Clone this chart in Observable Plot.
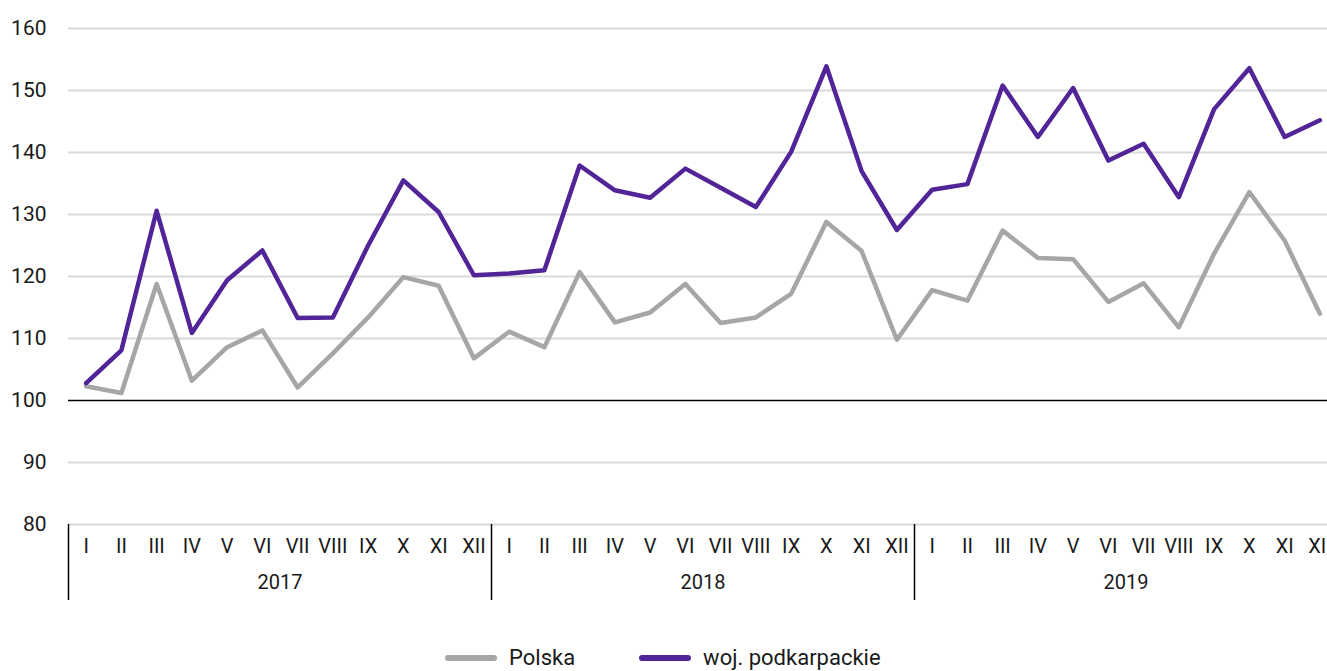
<!DOCTYPE html>
<html>
<head>
<meta charset="utf-8">
<script src="https://cdn.jsdelivr.net/npm/d3@7"></script>
<script src="https://cdn.jsdelivr.net/npm/@observablehq/plot@0.6"></script>
<style>
  html, body { margin: 0; padding: 0; background: #fff; overflow: hidden; width: 1327px; height: 671px; }
  body { font-family: "Liberation Sans Narrow", "Roboto", "Noto Sans", sans-serif; color: #1a1a1a; position: relative; }
  #legend { position: absolute; left: 445px; top: 645px; display: flex; align-items: center; font-size: 22px; white-space: nowrap; }
  .item { display: flex; align-items: center; margin-right: 64px; }
  .sw { display: inline-block; width: 52px; height: 6px; border-radius: 3px; margin-right: 12px; }
</style>
</head>
<body>
<div id="chart"></div>
<div id="legend"></div>
<script>
const months = ["I","II","III","IV","V","VI","VII","VIII","IX","X","XI","XII"];
const years = ["2017","2018","2019"];
const polska = [
  102.3, 101.2, 118.8, 103.2, 108.6, 111.3, 102.1, 107.6, 113.4, 119.9, 118.5, 106.8,
  111.1, 108.6, 120.7, 112.6, 114.2, 118.8, 112.5, 113.4, 117.2, 128.8, 124.1, 109.8,
  117.8, 116.1, 127.4, 123.0, 122.8, 115.9, 118.9, 111.8, 123.7, 133.6, 125.8, 114.0
];
const podkarpackie = [
  102.8, 108.1, 130.6, 110.9, 119.4, 124.2, 113.3, 113.4, 125.0, 135.5, 130.4, 120.2,
  120.5, 121.0, 137.9, 133.9, 132.7, 137.4, 134.3, 131.2, 140.1, 153.9, 137.0, 127.5,
  134.0, 134.9, 150.8, 142.5, 150.4, 138.7, 141.4, 132.8, 147.0, 153.6, 142.5, 145.2
];
const seriesNames = ["Polska", "woj. podkarpackie"];
const seriesColors = ["#a6a6a6", "#512498"];
const yTicks = [80, 90, 100, 110, 120, 130, 140, 150, 160];

const n = polska.length;
const idx = d3.range(n);
const rows = [
  ...idx.map(i => ({i, v: polska[i], s: seriesNames[0]})),
  ...idx.map(i => ({i, v: podkarpackie[i], s: seriesNames[1]}))
];
const yearCenters = years.map((_, k) => k * 12 + 5.5);
const separators = years.map((_, k) => k * 12 - 0.5);

const chart = Plot.plot({
  width: 1337,
  height: 610,
  marginLeft: 68,
  marginRight: 0,
  marginTop: 28,
  marginBottom: 86,
  style: {fontFamily: "Liberation Sans Narrow, Roboto, Noto Sans, sans-serif", fontSize: "20px", color: "#1a1a1a", maxWidth: "none", overflow: "visible"},
  x: {type: "linear", domain: [-0.5, n - 0.5], axis: null},
  y: {domain: [80, 160], axis: null},
  color: {domain: seriesNames, range: seriesColors},
  marks: [
    Plot.ruleY(yTicks.filter(d => d !== 100), {stroke: "#d9d9d9", strokeWidth: 2}),
    Plot.ruleY([100], {stroke: "#000", strokeWidth: 1.5}),
    Plot.axisY({ticks: yTicks, tickSize: 0, tickPadding: 22, fontSize: 21, label: null, tickFormat: d => String(d)}),
    Plot.axisX({ticks: idx, tickSize: 0, tickPadding: 14, label: null, tickFormat: i => months[i % 12], fontSize: 20}),
    Plot.axisX({ticks: yearCenters, tickSize: 0, tickPadding: 50, label: null, tickFormat: (d, k) => years[k], fontSize: 20}),
    Plot.axisX({ticks: separators, tickSize: 76, label: null, tickFormat: () => "", stroke: "#000", strokeWidth: 1.5}),
    Plot.line(rows, {x: "i", y: "v", z: "s", stroke: "s", strokeWidth: 4.5, strokeLinejoin: "round", strokeLinecap: "round"})
  ]
});
document.getElementById("chart").appendChild(chart);

const legend = document.getElementById("legend");
seriesNames.forEach((name, k) => {
  const item = document.createElement("div");
  item.className = "item";
  const sw = document.createElement("span");
  sw.className = "sw";
  sw.style.background = seriesColors[k];
  const t = document.createElement("span");
  t.textContent = name;
  item.appendChild(sw);
  item.appendChild(t);
  legend.appendChild(item);
});
</script>
</body>
</html>
